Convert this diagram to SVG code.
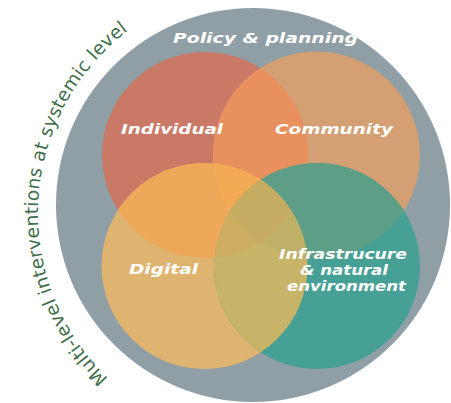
<svg xmlns="http://www.w3.org/2000/svg" width="451" height="403" viewBox="0 0 451 403">
<style>
.lbl{font-family:"DejaVu Sans","Liberation Sans",sans-serif;font-weight:bold;font-style:italic;font-size:14.5px;fill:#ffffff}
.arc{font-family:"DejaVu Sans","Liberation Sans",sans-serif;font-size:18.5px;fill:#3f6e4b;letter-spacing:0.2px}
</style>
<defs>
<clipPath id="cpR"><circle cx="205" cy="155" r="103"/></clipPath>
<clipPath id="cpC"><circle cx="316.5" cy="155" r="103.5"/></clipPath>
<clipPath id="cpD"><circle cx="204.5" cy="266" r="103"/></clipPath>
<clipPath id="cpT"><circle cx="317" cy="266" r="103"/></clipPath>
<path id="arcPath" d="M108.2,378.4 A230,230 0 0 1 153,13.8"/>
</defs>
<g id="policy-planning">
<circle cx="253" cy="205" r="197" fill="#8f9fa5"/>
<text class="lbl" x="173" y="43" textLength="185" lengthAdjust="spacingAndGlyphs">Policy &amp; planning</text>
</g>
<g id="individual"><circle cx="205" cy="155" r="103" fill="#c97966"/></g>
<g id="community"><circle cx="316.5" cy="155" r="103.5" fill="#d4a073"/></g>
<g id="digital"><circle cx="204.5" cy="266" r="103" fill="#dfb470"/></g>
<g id="infrastructure"><circle cx="317" cy="266" r="103" fill="#47a096"/></g>
<g id="overlaps">
<g clip-path="url(#cpR)"><circle cx="316.5" cy="155" r="103.5" fill="#e8905e"/></g>
<g clip-path="url(#cpR)"><circle cx="204.5" cy="266" r="103" fill="#eea85a"/></g>
<g clip-path="url(#cpC)"><circle cx="317" cy="266" r="103" fill="#5d9f86"/></g>
<g clip-path="url(#cpD)"><circle cx="317" cy="266" r="103" fill="#c8b468"/></g>
<g clip-path="url(#cpR)"><g clip-path="url(#cpC)"><circle cx="204.5" cy="266" r="103" fill="#f2aa55"/></g></g>
<g clip-path="url(#cpR)"><g clip-path="url(#cpC)"><circle cx="317" cy="266" r="103" fill="#5e9e86"/></g></g>
<g clip-path="url(#cpR)"><g clip-path="url(#cpD)"><circle cx="317" cy="266" r="103" fill="#ccad62"/></g></g>
<g clip-path="url(#cpC)"><g clip-path="url(#cpD)"><circle cx="317" cy="266" r="103" fill="#bfb067"/></g></g>
<g clip-path="url(#cpR)"><g clip-path="url(#cpC)"><g clip-path="url(#cpD)"><circle cx="317" cy="266" r="103" fill="#c5ac62"/></g></g></g>
</g>
<g id="labels">
<text class="lbl" x="121" y="134" textLength="102" lengthAdjust="spacingAndGlyphs">Individual</text>
<text class="lbl" x="275" y="134" textLength="118" lengthAdjust="spacingAndGlyphs">Community</text>
<text class="lbl" x="129" y="274" textLength="69" lengthAdjust="spacingAndGlyphs">Digital</text>
<text class="lbl" x="279" y="259" textLength="128" lengthAdjust="spacingAndGlyphs">Infrastrucure</text>
<text class="lbl" x="300" y="275" textLength="88" lengthAdjust="spacingAndGlyphs">&amp; natural</text>
<text class="lbl" x="287" y="291" textLength="119" lengthAdjust="spacingAndGlyphs">environment</text>
</g>
<g id="systemic-label">
<text class="arc"><textPath href="#arcPath">Multi-level interventions at systemic level</textPath></text>
</g>
</svg>
